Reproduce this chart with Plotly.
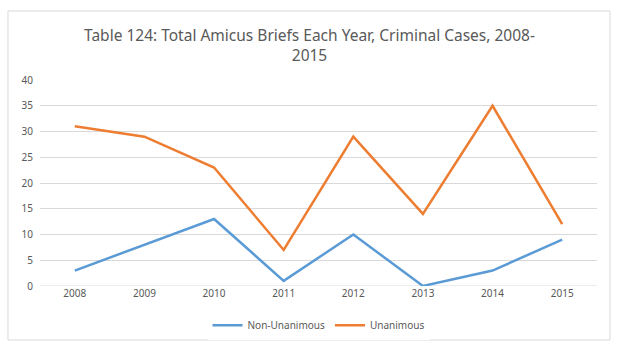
import plotly.graph_objects as go

years = ["2008", "2009", "2010", "2011", "2012", "2013", "2014", "2015"]
non_unanimous = [3, 8, 13, 1, 10, 0, 3, 9]
unanimous = [31, 29, 23, 7, 29, 14, 35, 12]

fig = go.Figure()
fig.add_trace(go.Scatter(x=years, y=non_unanimous, mode="lines", name="Non-Unanimous",
                         line=dict(color="#5B9BD5", width=2.5)))
fig.add_trace(go.Scatter(x=years, y=unanimous, mode="lines", name="Unanimous",
                         line=dict(color="#ED7D31", width=2.5)))

fig.update_layout(
    width=619, height=354,
    margin=dict(l=40, r=22, t=80, b=68),
    paper_bgcolor="white", plot_bgcolor="white",
    font=dict(family="Noto Sans, Liberation Sans, sans-serif", color="#595959", size=10),
    title=dict(text="Table 124: Total Amicus Briefs Each Year, Criminal Cases, 2008-<br>2015",
               x=0.5, xanchor="center", y=0.885, yanchor="middle",
               font=dict(size=15.5, color="#595959")),
    xaxis=dict(type="category", range=[-0.5, 7.5], showgrid=False, showline=False,
               ticks="", zeroline=False, tickfont=dict(size=10, color="#595959")),
    yaxis=dict(range=[0, 40], dtick=5, showgrid=True, gridcolor="#D9D9D9", gridwidth=1,
               zeroline=False, showline=False, ticks="", ticklabelstandoff=6,
               tickfont=dict(size=10, color="#595959")),
    legend=dict(orientation="h", x=0.5, xanchor="center", y=-0.19, yanchor="middle",
                font=dict(size=10, color="#595959")),
    showlegend=True,
)
fig.add_shape(type="line", xref="paper", yref="y", x0=0, x1=1, y0=0, y1=0,
              line=dict(color="#D9D9D9", width=1), layer="below")
fig.add_shape(type="rect", xref="paper", yref="paper", x0=-0.0575, x1=1.0233, y0=-0.262, y1=1.335,
              line=dict(color="#D9D9D9", width=1), layer="below")

fig.write_html("out.html")
